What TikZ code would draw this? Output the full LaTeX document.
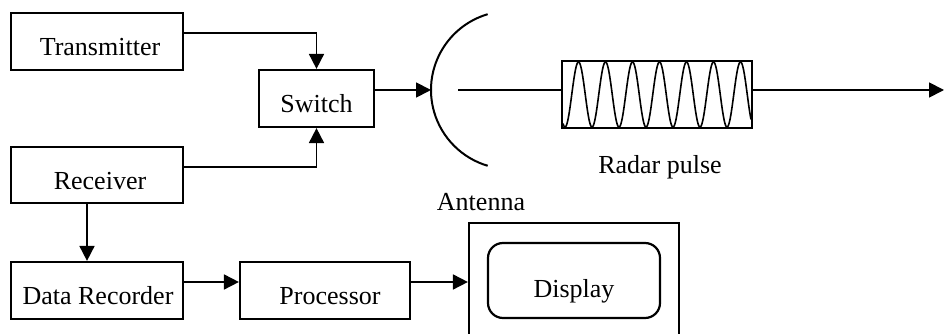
\documentclass[tikz,border=0pt]{standalone}
\usepackage{fontspec}
\setmainfont{Liberation Serif}
\usetikzlibrary{arrows.meta}
\begin{document}
\begin{tikzpicture}[x=1pt,y=1pt,
  font=\fontsize{26}{31}\selectfont,
  blk/.style={draw=black, line width=2.2pt, inner sep=0pt, text height=35pt, text depth=6pt},
  conn/.style={line width=1.8pt, -{Triangle[length=15pt,width=15pt]}},
  plain/.style={line width=1.8pt}]
\useasboundingbox (0,0) rectangle (944,334);
% blocks
\node[blk, minimum width=172pt, minimum height=57pt] (trans) at (97,292.5) {\hspace*{6pt}Transmitter};
\node[blk, minimum width=115pt, minimum height=57pt] (switch) at (316.5,235.5) {Switch};
\node[blk, minimum width=172pt, minimum height=56pt] (recv) at (97,159) {\hspace*{6pt}Receiver};
\node[blk, minimum width=172pt, minimum height=57pt] (rec) at (97,43.5) {\hspace*{2pt}Data Recorder};
\node[blk, minimum width=170pt, minimum height=57pt] (proc) at (325,43.5) {\hspace*{10pt}Processor};
\node[draw=black, line width=2.2pt, minimum width=210pt, minimum height=140pt, inner sep=0pt] (screen) at (574,41) {};
\node[blk, rounded corners=15pt, minimum width=172pt, minimum height=75pt, text height=41pt] (disp) at (574,53.5) {Display};
% antenna
\coordinate (antL) at (431,244);
\draw[line width=2pt] (antL) ++(79,0) ++(106.4:79) arc[start angle=106.4, end angle=253.6, radius=79];
\coordinate (feed) at (458,244);
% radar pulse
\node[draw=black, line width=1.8pt, minimum width=190pt, minimum height=67pt, inner sep=0pt] (pulse) at (657,239.5) {};
\draw[line width=1.6pt] plot[domain=563:751, samples=500, variable=\t] ({\t},{239.5-32.5*cos(360/27*(\t-565))});
\coordinate (outend) at (944,244);
% labels
\node (rplabel) at (660,167) {Radar pulse};
\node (antlabel) at (481,132) {Antenna};
% connectors
\coordinate (pr) at ([yshift=8.5pt]proc.east);
\draw[conn] ([yshift=8.5pt]trans.east) -| (switch.north);
\draw[conn] ([yshift=8pt]recv.east) -| (switch.south);
\draw[conn] ([xshift=-10pt]recv.south) -- ([xshift=-10pt]rec.north);
\draw[conn] ([yshift=8.5pt]rec.east) -- ([yshift=8.5pt]proc.west);
\draw[conn] (pr) -- (screen.west |- pr);
\draw[conn] ([yshift=8.5pt]switch.east) -- (antL);
\draw[plain] (feed) -- (pulse.west |- feed);
\draw[conn] (pulse.east |- feed) -- (outend);
\end{tikzpicture}
\end{document}
